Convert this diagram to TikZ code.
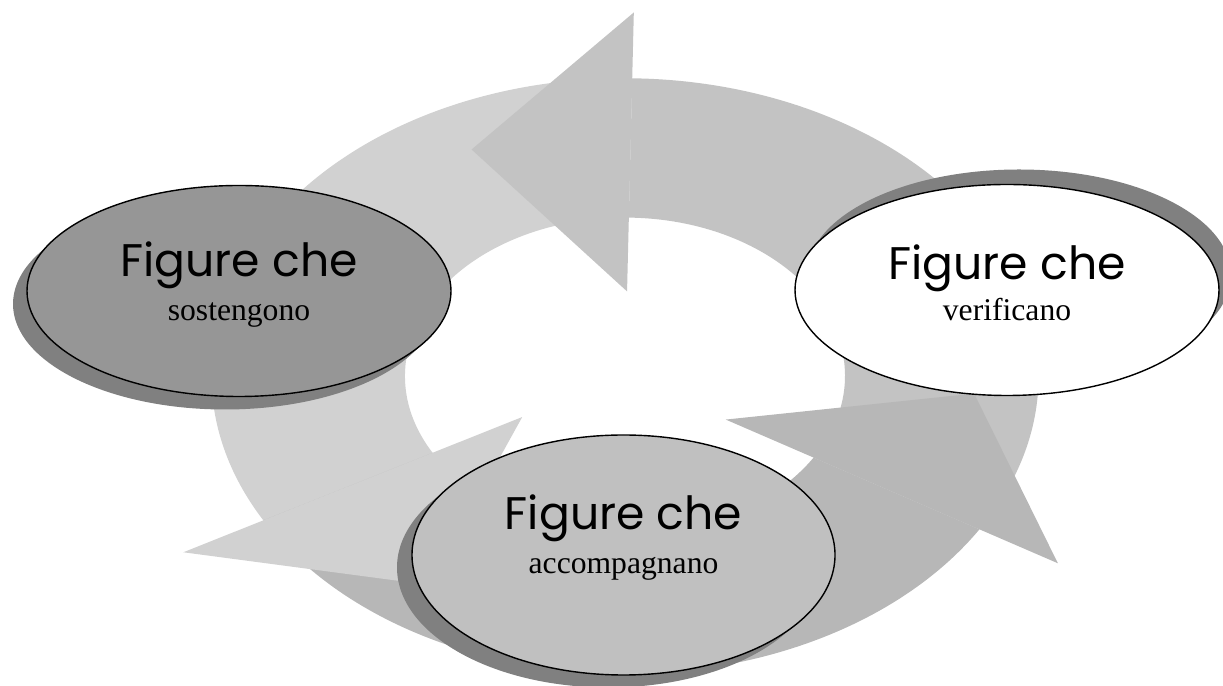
\documentclass[tikz,border=0pt]{standalone}
\usepackage{fontspec}
\setmainfont{Liberation Serif}
\newfontfamily\comicfont{Poppins}
\usepackage{tikz}
\usetikzlibrary{shapes,shadows}

\definecolor{ringA}{RGB}{195,195,195}
\definecolor{ringB}{RGB}{209,209,209}
\definecolor{ringC}{RGB}{183,183,183}
\definecolor{ovalDark}{RGB}{150,150,150}
\definecolor{ovalMid}{RGB}{192,192,192}
\definecolor{ovalShadow}{RGB}{128,128,128}

\newcommand{\ringin}{4.4}
\newcommand{\ringout}{8.27}

\tikzset{
	oval/.style={ellipse, draw=black, line width=0.8pt, inner sep=0pt, minimum width=8.48cm, minimum height=4.22cm},
	titletext/.style={anchor=base, font=\comicfont\fontsize{26}{30}\selectfont},
	subtext/.style={anchor=base, font=\fontsize{18}{22}\selectfont},
}

\begin{document}
\begin{tikzpicture}
				
				\useasboundingbox (0,0) rectangle (24.46,13.72);
				
				% the ring of three arrows
				\begin{scope}[shift={(12.5,6.2)},yscale=0.72]
				\fill[ringA] (-31:\ringout) arc[start angle=-31, end angle=89, radius=\ringout] -- (89:\ringin) arc[start angle=89, end angle=-31, radius=\ringin] -- cycle;
				\fill[ringB] (89:\ringout) arc[start angle=89, end angle=209, radius=\ringout] -- (209:\ringin) arc[start angle=209, end angle=89, radius=\ringin] -- cycle;
				\fill[ringC] (209:\ringout) arc[start angle=209, end angle=329, radius=\ringout] -- (329:\ringin) arc[start angle=329, end angle=209, radius=\ringin] -- cycle;
				
				\fill[ringA] (89:2.35) -- (116:7.0) -- (89:10.1) -- cycle;
				\fill[ringB] (209:2.35) -- (236:7.0) -- (209:10.1) -- cycle;
				\fill[ringC] (329:2.35) -- (356:7.0) -- (329:10.1) -- cycle;
				\end{scope}
				
				% the three ovals
				\node[oval, fill=ovalDark, drop shadow={shadow xshift=-0.28cm, shadow yshift=-0.26cm, fill=ovalShadow, opacity=1}] (sost) at (4.78,7.9) {};
				\node[titletext] (sostA) at ([yshift=0.28cm]sost.center) {Figure che};
				\node[subtext] (sostB) at ([yshift=-0.6cm]sost.center) {sostengono};
				
				\node[oval, fill=white, drop shadow={shadow xshift=0.24cm, shadow yshift=0.3cm, fill=ovalShadow, opacity=1}] (verif) at (20.14,7.92) {};
				\node[titletext] (verifA) at ([yshift=0.2cm]verif.center) {Figure che};
				\node[subtext] (verifB) at ([yshift=-0.62cm]verif.center) {verificano};
				
				\node[oval, fill=ovalMid, minimum width=8.46cm, minimum height=4.8cm, drop shadow={shadow xshift=-0.3cm, shadow yshift=-0.25cm, fill=ovalShadow, opacity=1}] (accomp) at (12.47,2.62) {};
				\node[titletext] (accompA) at ([yshift=0.5cm]accomp.center) {Figure che};
				\node[subtext] (accompB) at ([yshift=-0.38cm]accomp.center) {accompagnano};
				
\end{tikzpicture}
\end{document}
